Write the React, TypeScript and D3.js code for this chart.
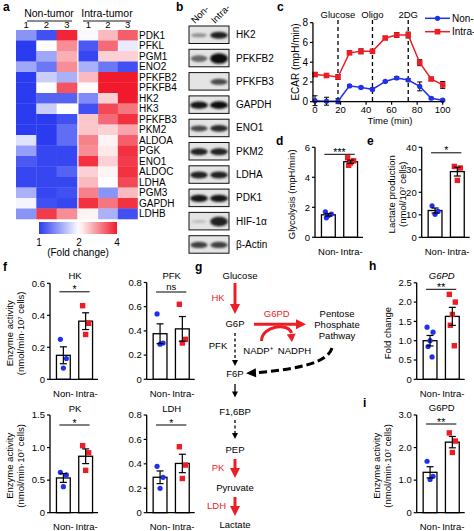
import React from "react";
import * as d3 from "d3";

const FONT = "'Liberation Sans', Arial, Helvetica, sans-serif";
const BLUE = "#1f30f0";
const RED = "#ee1c25";
const HM_BLUE = "#2b3cf0";
const HM_RED = "#f01a2c";

// ---------- a: heatmap ----------
const genes = ["PDK1","PFKL","PGM1","ENO2","PFKFB2","PFKFB4","HK2","HK3","PFKFB3","PKM2","ALDOA","PGK","ENO1","ALDOC","LDHA","PGM3","GAPDH","LDHB"];
const heatGroups = ["Non-tumor", "Intra-tumor"];
const replicates = ["1", "2", "3"];
const nonTumorFold = [
  [1.45, 1.1, 3.9], [1.0, 2.0, 3.0], [1.0, 1.55, 2.7], [1.55, 1.3, 3.0],
  [1.0, 1.75, 1.6], [1.0, 2.0, 3.5], [1.0, 1.2, 1.2], [1.0, 1.75, 2.0],
  [1.0, 1.0, 1.1], [1.0, 1.0, 1.25], [1.85, 1.0, 1.25], [1.5, 1.05, 1.05],
  [1.15, 1.05, 1.05], [1.05, 1.05, 1.2], [1.05, 1.05, 1.05], [1.6, 1.05, 1.1],
  [1.95, 1.1, 1.05], [1.45, 3.7, 3.0],
];
const intraTumorFold = [
  [1.97, 2.6, 3.4], [1.15, 3.3, 1.9], [1.05, 2.4, 2.4], [1.6, 1.3, 1.1],
  [2.6, 4.0, 4.0], [2.05, 4.0, 4.0], [1.4, 2.4, 4.0], [1.1, 3.6, 3.2],
  [2.5, 3.3, 3.8], [2.5, 2.4, 2.8], [3.1, 2.1, 3.4], [3.0, 2.2, 3.8],
  [3.8, 2.4, 3.7], [2.4, 2.1, 3.8], [2.6, 2.0, 3.6], [3.1, 1.45, 2.6],
  [3.8, 3.2, 3.8], [2.1, 1.6, 1.1],
];
const foldTicks = [1, 2, 4];

// ---------- b: western blot ----------
const blotProteins = ["HK2","PFKFB2","PFKFB3","GAPDH","ENO1","PKM2","LDHA","PDK1","HIF-1α","β-Actin"];
const blotLanes = ["Non-", "Intra-"];
const blotNon = [0.35, 0.55, 0.0, 0.95, 0.7, 0.9, 0.9, 0.95, 0.12, 0.75];
const blotIntra = [0.9, 1.0, 0.7, 1.0, 0.85, 0.9, 0.9, 0.97, 0.9, 0.75];

// ---------- c: ECAR ----------
const ecarTime = [0, 9, 18, 27, 36, 45, 55, 64, 73, 82, 91, 100];
const ecarNon = [0.1, 0.05, 0.05, 1.6, 1.45, 1.25, 2.05, 2.4, 2.2, 1.55, 0.35, 0.15];
const ecarNonErr = [0.5, 0.4, 0.25, 0.1, 0.1, 0.15, 0.1, 0.15, 0.15, 0.45, 0.1, 0.1];
const ecarIntra = [2.75, 2.65, 2.5, 4.95, 5.1, 5.1, 6.45, 6.75, 6.75, 3.95, 2.3, 1.7];
const ecarIntraErr = [0.2, 0.15, 0.25, 0.15, 0.25, 0.2, 0.15, 0.25, 0.3, 0.3, 0.15, 0.35];
const injectTimes = [18, 45, 73];
const injectLabels = ["Glucose", "Oligo", "2DG"];
const ecarXTicks = [0, 20, 40, 60, 80, 100];
const ecarYTicks = [0, 2, 4, 6, 8];

// ---------- bar panels ----------
const barGroups = ["Non-", "Intra-"];
const glycoNon = [1.7, 1.55, 1.45, 1.3];
const glycoIntra = [5.3, 5.1, 4.95, 4.8];
const lactNon = [14, 11.5, 10.2];
const lactIntra = [31.5, 30.8, 25.3];
const hkNon = [0.25, 0.13, 0.07];
const hkIntra = [0.46, 0.35, 0.28];
const pfkNon = [0.54, 0.3, 0.29];
const pfkIntra = [0.62, 0.33, 0.3];
const pkNon = [0.62, 0.58, 0.4];
const pkIntra = [1.03, 0.92, 0.65];
const ldhNon = [0.38, 0.29, 0.2];
const ldhIntra = [0.54, 0.39, 0.28];
const g6pdFoldNon = [1.35, 1.22, 1.0, 0.85, 0.58];
const g6pdFoldIntra = [2.2, 2.0, 1.68, 1.4, 0.87];
const g6pdActNon = [1.58, 1.12, 1.02];
const g6pdActIntra = [2.45, 2.2, 1.85];
const jitter = [-3, 3, 0, -2, 2];

function arrowHead(x: number, y: number, angle: number, len: number, w: number) {
  const bx = x - len * Math.cos(angle), by = y - len * Math.sin(angle);
  const px = (-Math.sin(angle) * w) / 2, py = (Math.cos(angle) * w) / 2;
  return `M${x},${y}L${bx + px},${by + py}L${bx - px},${by - py}Z`;
}

function PanelLabel({ x, y, t }: { x: number; y: number; t: string }) {
  return <text x={x} y={y} fontSize={12} fontWeight="bold">{t}</text>;
}

function Heatmap() {
  const rowY = d3.scaleBand<string>().domain(genes).range([30, 219]);
  const colN = d3.scaleBand<string>().domain(replicates).range([16, 77]);
  const colI = d3.scaleBand<string>().domain(replicates).range([78.5, 137.5]);
  const color = d3.scaleLinear<string>().domain(foldTicks).range([HM_BLUE, "#ffffff", HM_RED]).clamp(true);
  const cbX = d3.scaleLinear().domain(foldTicks).range([39, 79, 117]);
  const stops = d3.range(0, 1.0001, 0.05).map((t) => ({ t, c: color(cbX.invert(39 + t * 78)) }));
  const cols = [colN, colI];
  const data = [nonTumorFold, intraTumorFold];
  const headerX = [49, 107];
  const lineX = [[27, 72], [83, 131]];
  return (
    <g>
      <defs>
        <linearGradient id="cb" x1="0" x2="1" y1="0" y2="0">
          {stops.map((s, i) => <stop key={i} offset={s.t} stopColor={s.c} />)}
        </linearGradient>
      </defs>
      {heatGroups.map((g, gi) => (
        <g key={g}>
          <text x={headerX[gi]} y={17} fontSize={10.5} textAnchor="middle">{g}</text>
          <line x1={lineX[gi][0]} x2={lineX[gi][1]} y1={21} y2={21} stroke="#000" strokeWidth={0.9} />
          {replicates.map((r) => (
            <text key={r} x={cols[gi](r)! + cols[gi].bandwidth() / 2} y={28} fontSize={9.5} textAnchor="middle">{r}</text>
          ))}
          {genes.map((gene, ri) =>
            replicates.map((r, ci) => (
              <rect key={gene + r} x={cols[gi](r)!} y={rowY(gene)!} width={cols[gi].bandwidth() + 0.3}
                height={rowY.bandwidth() + 0.3} fill={color(data[gi][ri][ci])} />
            ))
          )}
        </g>
      ))}
      {genes.map((gene) => (
        <text key={gene} x={139} y={rowY(gene)! + rowY.bandwidth() / 2} dy="0.35em" fontSize={10}>{gene}</text>
      ))}
      <rect x={39} y={222} width={78} height={12} fill="url(#cb)" />
      {foldTicks.map((t) => (
        <text key={t} x={cbX(t)} y={246} fontSize={10} textAnchor="middle">{t}</text>
      ))}
      <text x={78} y={256} fontSize={10} textAnchor="middle">(Fold change)</text>
    </g>
  );
}

function Blots() {
  const rowY = d3.scaleBand<string>().domain(blotProteins).range([26, 253.2]).paddingInner(0.249);
  const lane = d3.scaleBand<string>().domain(blotLanes).range([189, 229]);
  const shade = d3.interpolateRgb("#d6d6d6", "#0d0d0d");
  return (
    <g>
      <defs>
        <filter id="blur" x="-30%" y="-60%" width="160%" height="220%">
          <feGaussianBlur stdDeviation="1.1" />
        </filter>
        {blotProteins.map((p, i) => (
          <clipPath key={p} id={"bc" + i}>
            <rect x={189} y={rowY(p)!} width={40} height={rowY.bandwidth()} />
          </clipPath>
        ))}
      </defs>
      <text transform="translate(195,24) rotate(-45)" fontSize={9.5}>{blotLanes[0]}</text>
      <text transform="translate(215,24) rotate(-45)" fontSize={9.5}>{blotLanes[1]}</text>
      {blotProteins.map((p, i) => {
        const y0 = rowY(p)!, h = rowY.bandwidth();
        const cy = y0 + h / 2;
        const vals = [blotNon[i], blotIntra[i]];
        return (
          <g key={p}>
            <rect x={189} y={y0} width={40} height={h} fill="#e4e4e4" />
            <g clipPath={`url(#bc${i})`}>
              {blotLanes.map((l, li) => vals[li] > 0.01 ? (
                <ellipse key={l} cx={lane(l)! + lane.bandwidth() / 2} cy={cy + 0.5}
                  rx={7.5 + vals[li] * 1.5} ry={1.2 + vals[li] * (p === "PFKFB2" || p === "HIF-1α" ? 4 : 2.6)}
                  fill={shade(vals[li])} filter="url(#blur)" />
              ) : null)}
            </g>
            <rect x={189} y={y0} width={40} height={h} fill="none" stroke="#111" strokeWidth={1} />
            <text x={236} y={cy} dy="0.35em" fontSize={10}>{p}</text>
          </g>
        );
      })}
    </g>
  );
}

function Ecar() {
  const x = d3.scaleLinear().domain([0, 100]).range([315, 442.7]);
  const y = d3.scaleLinear().domain([0, 8]).range([101.7, 22.7]);
  const ax = x(-1.6);
  const line = d3.line<number>().x((_, i) => x(ecarTime[i])).y((d) => y(d));
  const series = [
    { v: ecarNon, e: ecarNonErr, c: BLUE, sq: false },
    { v: ecarIntra, e: ecarIntraErr, c: RED, sq: true },
  ];
  return (
    <g>
      {injectTimes.map((t, i) => (
        <g key={t}>
          <line x1={x(t)} x2={x(t)} y1={20} y2={y(0)} stroke="#000" strokeWidth={1.3} strokeDasharray="4,3" />
          <text x={x(t)} y={17.5} fontSize={9.5} textAnchor="middle">{injectLabels[i]}</text>
        </g>
      ))}
      {series.map((s, si) => (
        <g key={si}>
          {s.v.map((v, i) => (
            <g key={i} stroke="#000" strokeWidth={1}>
              <line x1={x(ecarTime[i])} x2={x(ecarTime[i])} y1={y(v - s.e[i])} y2={y(v + s.e[i])} />
              <line x1={x(ecarTime[i]) - 2.5} x2={x(ecarTime[i]) + 2.5} y1={y(v + s.e[i])} y2={y(v + s.e[i])} />
              <line x1={x(ecarTime[i]) - 2.5} x2={x(ecarTime[i]) + 2.5} y1={y(v - s.e[i])} y2={y(v - s.e[i])} />
            </g>
          ))}
          <path d={line(s.v)!} fill="none" stroke={s.c} strokeWidth={1.5} />
          {s.v.map((v, i) => s.sq ? (
            <rect key={i} x={x(ecarTime[i]) - 2.8} y={y(v) - 2.8} width={5.6} height={5.6} fill={s.c} />
          ) : (
            <circle key={i} cx={x(ecarTime[i])} cy={y(v)} r={2.6} fill={s.c} />
          ))}
        </g>
      ))}
      <line x1={ax} x2={ax} y1={y(8)} y2={y(0)} stroke="#000" strokeWidth={1.3} />
      <line x1={ax} x2={x(100) + 1} y1={y(0)} y2={y(0)} stroke="#000" strokeWidth={1.3} />
      {ecarYTicks.map((t) => (
        <g key={t}>
          <line x1={ax - 3} x2={ax} y1={y(t)} y2={y(t)} stroke="#000" strokeWidth={1.2} />
          <text x={ax - 5} y={y(t)} dy="0.35em" fontSize={10} textAnchor="end">{t}</text>
        </g>
      ))}
      {ecarXTicks.map((t) => (
        <g key={t}>
          <line x1={x(t)} x2={x(t)} y1={y(0)} y2={y(0) + 3} stroke="#000" strokeWidth={1.2} />
          <text x={x(t)} y={y(0) + 11} fontSize={9.5} textAnchor="middle">{t}</text>
        </g>
      ))}
      <text x={390} y={123.5} fontSize={9.5} textAnchor="middle">Time (min)</text>
      <text transform="translate(299,62) rotate(-90)" fontSize={10} textAnchor="middle">ECAR (mpH/min)</text>
      <line x1={425} x2={450} y1={18.3} y2={18.3} stroke={BLUE} strokeWidth={1.5} />
      <circle cx={437.5} cy={18.3} r={2.6} fill={BLUE} />
      <text x={452} y={21.8} fontSize={10}>Non-</text>
      <line x1={425} x2={450} y1={31.7} y2={31.7} stroke={RED} strokeWidth={1.5} />
      <rect x={434.7} y={28.9} width={5.6} height={5.6} fill={RED} />
      <text x={452} y={35.2} fontSize={10}>Intra-</text>
    </g>
  );
}

type BarProps = {
  axisX: number; y0: number; yTop: number; max: number; ticks: number[]; fmt: (v: number) => string;
  non: number[]; intra: number[]; title?: string; italic?: boolean; titleY?: number;
  sig: string; sigDy: number; ylabel?: string[]; ylabelX?: number[];
};

function BarPanel(p: BarProps) {
  const y = d3.scaleLinear().domain([0, p.max]).range([p.y0, p.yTop]);
  const x = d3.scaleBand<string>().domain(barGroups).range([p.axisX + 2, p.axisX + 47]).paddingInner(0.38).paddingOuter(0.2);
  const bw = x.bandwidth();
  const sets = [p.non, p.intra];
  const cx = (g: string) => x(g)! + bw / 2;
  const sigY = p.yTop + p.sigDy;
  const midY = (p.y0 + p.yTop) / 2 + 2;
  return (
    <g>
      {barGroups.map((g, gi) => {
        const m = d3.mean(sets[gi])!;
        const sem = d3.deviation(sets[gi])! / Math.sqrt(sets[gi].length);
        const c = cx(g);
        return (
          <g key={g}>
            <rect x={x(g)} y={y(m)} width={bw} height={p.y0 - y(m)} fill="#fff" stroke="#000" strokeWidth={1.3} />
            {sets[gi].map((v, i) => gi === 0 ? (
              <circle key={i} cx={c + jitter[i % jitter.length]} cy={y(v)} r={2.6} fill={BLUE} />
            ) : (
              <rect key={i} x={c + jitter[i % jitter.length] - 2.7} y={y(v) - 2.7} width={5.4} height={5.4} fill={RED} />
            ))}
            <g stroke="#000" strokeWidth={1.2}>
              <line x1={c} x2={c} y1={y(m - sem)} y2={y(m + sem)} />
              <line x1={c - 3.5} x2={c + 3.5} y1={y(m + sem)} y2={y(m + sem)} />
              <line x1={c - 3.5} x2={c + 3.5} y1={y(m - sem)} y2={y(m - sem)} />
            </g>
            <text x={c + gi} y={p.y0 + 17.4} fontSize={9.5} textAnchor="middle">{g}</text>
          </g>
        );
      })}
      <line x1={p.axisX} x2={p.axisX} y1={p.yTop} y2={p.y0} stroke="#000" strokeWidth={1.3} />
      <line x1={p.axisX} x2={p.axisX + 48} y1={p.y0} y2={p.y0} stroke="#000" strokeWidth={1.3} />
      {p.ticks.map((t) => (
        <g key={t}>
          <line x1={p.axisX - 3} x2={p.axisX} y1={y(t)} y2={y(t)} stroke="#000" strokeWidth={1.2} />
          <text x={p.axisX - 5} y={y(t)} dy="0.35em" fontSize={9.5} textAnchor="end">{p.fmt(t)}</text>
        </g>
      ))}
      <line x1={cx("Non-") - 4} x2={cx("Intra-") + 4} y1={sigY} y2={sigY} stroke="#000" strokeWidth={1} />
      <text x={(cx("Non-") + cx("Intra-")) / 2} y={p.sig === "ns" ? sigY - 1.8 : sigY + 1.5} fontSize={p.sig === "ns" ? 9.5 : 10.5} textAnchor="middle">{p.sig}</text>
      {p.title ? (
        <text x={p.axisX + 25} y={p.titleY} fontSize={9.5} textAnchor="middle" fontStyle={p.italic ? "italic" : "normal"}>{p.title}</text>
      ) : null}
      {p.ylabel?.map((l, i) => (
        <text key={i} transform={`translate(${p.ylabelX![i]},${midY}) rotate(-90)`} fontSize={9.5} textAnchor="middle">{l}</text>
      ))}
    </g>
  );
}

function Pathway() {
  const mx = 235;
  const black = "#000";
  return (
    <g fontSize={9.5}>
      <text x={240} y={278.5} textAnchor="middle">Glucose</text>
      <line x1={mx} x2={mx} y1={283} y2={304} stroke={RED} strokeWidth={3} />
      <path d={arrowHead(mx, 314, Math.PI / 2, 10, 10)} fill={RED} />
      <text x={218} y={300.5} textAnchor="middle" fill={RED}>HK</text>
      <text x={mx} y={327} textAnchor="middle">G6P</text>
      <line x1={mx} x2={mx} y1={333} y2={360} stroke={black} strokeWidth={1.3} strokeDasharray="3,2.5" />
      <path d={arrowHead(mx, 366, Math.PI / 2, 6, 6)} fill={black} />
      <text x={218} y={348.5} textAnchor="middle">PFK</text>
      <text x={mx} y={377} textAnchor="middle">F6P</text>
      <line x1={mx} x2={mx} y1={384} y2={392} stroke={black} strokeWidth={1.3} />
      <path d={arrowHead(mx, 397.5, Math.PI / 2, 6, 6)} fill={black} />
      <text x={mx} y={414.5} textAnchor="middle">F1,6BP</text>
      <line x1={mx} x2={mx} y1={420} y2={433} stroke={black} strokeWidth={1.3} strokeDasharray="3,2.5" />
      <path d={arrowHead(mx, 439, Math.PI / 2, 6, 6)} fill={black} />
      <text x={mx} y={452.5} textAnchor="middle">PEP</text>
      <line x1={mx} x2={mx} y1={459} y2={468} stroke={RED} strokeWidth={3} />
      <path d={arrowHead(mx, 478, Math.PI / 2, 10, 10)} fill={RED} />
      <text x={218} y={470.5} textAnchor="middle" fill={RED}>PK</text>
      <text x={mx} y={491} textAnchor="middle">Pyruvate</text>
      <line x1={mx} x2={mx} y1={497} y2={506} stroke={RED} strokeWidth={3} />
      <path d={arrowHead(mx, 516, Math.PI / 2, 10, 10)} fill={RED} />
      <text x={216.5} y={508.5} textAnchor="middle" fill={RED}>LDH</text>
      <text x={mx} y={528} textAnchor="middle">Lactate</text>
      <line x1={254} x2={296} y1={324.3} y2={324.3} stroke={RED} strokeWidth={3} />
      <path d={arrowHead(306, 324.3, 0, 10, 10)} fill={RED} />
      <text x={276.7} y={317} textAnchor="middle" fill={RED}>G6PD</text>
      <path d="M261.5,341 C261.5,326 288,322 291.5,333" fill="none" stroke={RED} strokeWidth={3} />
      <path d={arrowHead(292, 342, Math.PI / 2 - 0.1, 8, 9)} fill={RED} />
      <text x={258} y={353.5} textAnchor="middle">NADP⁺</text>
      <text x={294.5} y={353.5} textAnchor="middle">NADPH</text>
      <text x={337} y={317} textAnchor="middle">Pentose</text>
      <text x={337} y={328} textAnchor="middle">Phosphate</text>
      <text x={337} y={339.3} textAnchor="middle">Pathway</text>
      <path d="M332,348 C328,362 300,369 258,372.5" fill="none" stroke={black} strokeWidth={3} strokeDasharray="8,4" />
      <path d={arrowHead(246, 373.3, Math.PI - 0.05, 10, 9)} fill={black} />
    </g>
  );
}

export default function App() {
  const f1 = (v: number) => (v === 0 ? "0" : v.toFixed(1));
  const f0 = (v: number) => String(v);
  return (
    <svg width={474} height={531} style={{ position: "absolute", left: 0, top: 0 }} fontFamily={FONT}>
      <rect width={474} height={531} fill="#fff" />
      <PanelLabel x={3} y={11} t="a" />
      <PanelLabel x={176} y={11} t="b" />
      <PanelLabel x={277} y={11} t="c" />
      <PanelLabel x={276} y={145} t="d" />
      <PanelLabel x={367} y={145} t="e" />
      <PanelLabel x={3} y={271} t="f" />
      <PanelLabel x={195} y={271} t="g" />
      <PanelLabel x={369} y={270} t="h" />
      <PanelLabel x={363} y={407} t="i" />
      <Heatmap />
      <Blots />
      <Ecar />
      <BarPanel axisX={315} y0={237.3} yTop={147.3} max={6} ticks={[0, 2, 4, 6]} fmt={f0}
        non={glycoNon} intra={glycoIntra} sig="***" sigDy={7}
        ylabel={["Glycolysis (mpH/min)"]} ylabelX={[295]} />
      <BarPanel axisX={421.7} y0={237.3} yTop={147.3} max={40} ticks={[0, 10, 20, 30, 40]} fmt={f0}
        non={lactNon} intra={lactIntra} sig="*" sigDy={5.5}
        ylabel={["Lactate production", "(nmol/10⁷ cells)"]} ylabelX={[395, 406]} />
      <BarPanel axisX={50} y0={379.3} yTop={283.3} max={0.6} ticks={[0, 0.2, 0.4, 0.6]} fmt={f1}
        non={hkNon} intra={hkIntra} sig="*" sigDy={8.5} title="HK" titleY={279}
        ylabel={["Enzyme activity", "(nmol/min·10⁷ cells)"]} ylabelX={[13, 24]} />
      <BarPanel axisX={146.7} y0={379.3} yTop={282.5} max={0.8} ticks={[0, 0.2, 0.4, 0.6, 0.8]} fmt={f1}
        non={pfkNon} intra={pfkIntra} sig="ns" sigDy={9.5} title="PFK" titleY={279} />
      <BarPanel axisX={50} y0={512.7} yTop={415} max={1.5} ticks={[0, 0.5, 1.0, 1.5]} fmt={f1}
        non={pkNon} intra={pkIntra} sig="*" sigDy={10} title="PK" titleY={411.5}
        ylabel={["Enzyme activity", "(nmol/min·10⁷ cells)"]} ylabelX={[13, 24]} />
      <BarPanel axisX={146.7} y0={512.7} yTop={415} max={0.8} ticks={[0, 0.2, 0.4, 0.6, 0.8]} fmt={f1}
        non={ldhNon} intra={ldhIntra} sig="*" sigDy={10} title="LDH" titleY={411.5} />
      <BarPanel axisX={416.7} y0={379.3} yTop={282.8} max={2.5} ticks={[0, 0.5, 1.0, 1.5, 2.0, 2.5]} fmt={f1}
        non={g6pdFoldNon} intra={g6pdFoldIntra} sig="**" sigDy={6.5} title="G6PD" italic titleY={278.5}
        ylabel={["Fold change"]} ylabelX={[391]} />
      <BarPanel axisX={416.7} y0={512.7} yTop={415} max={3.0} ticks={[0, 1.0, 2.0, 3.0]} fmt={f1}
        non={g6pdActNon} intra={g6pdActIntra} sig="**" sigDy={9} title="G6PD" titleY={410.5}
        ylabel={["Enzyme activity", "(nmol/min·10⁷ cells)"]} ylabelX={[380, 391]} />
      <Pathway />
    </svg>
  );
}
